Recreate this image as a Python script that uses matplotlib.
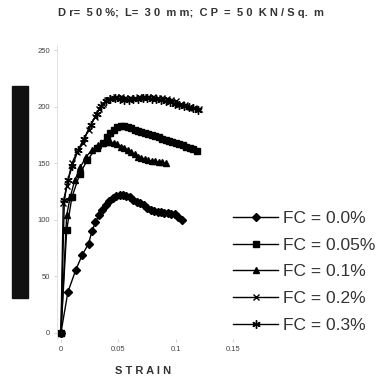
import matplotlib
matplotlib.use("Agg")
import matplotlib.pyplot as plt
from matplotlib.patches import Rectangle

# 資料：應變 (strain) 與應力，依 FC 分組
fc_labels = ["FC = 0.0%", "FC = 0.05%", "FC = 0.1%", "FC = 0.2%", "FC = 0.3%"]

x_fc00 = [0, 0.006, 0.013, 0.0185, 0.024, 0.027, 0.030, 0.033, 0.036, 0.039, 0.042, 0.045,
          0.048, 0.051, 0.054, 0.057, 0.060, 0.063, 0.066, 0.069, 0.072, 0.075, 0.078, 0.081,
          0.084, 0.087, 0.090, 0.093, 0.096, 0.099, 0.102, 0.105]
y_fc00 = [0, 36, 56, 69, 79, 90, 98, 104, 109, 113, 117, 119, 121, 122, 122, 121, 120, 118,
          116, 115, 113, 111, 109, 108, 107, 107, 106, 106, 105, 105, 103, 100]

x_fc005 = [0, 0.005, 0.0095, 0.0165, 0.023, 0.031, 0.0365, 0.040, 0.043, 0.046, 0.049, 0.052,
           0.055, 0.058, 0.061, 0.064, 0.067, 0.070, 0.073, 0.076, 0.079, 0.082, 0.085, 0.088,
           0.091, 0.094, 0.097, 0.100, 0.103, 0.106, 0.109, 0.112, 0.115, 0.118]
y_fc005 = [0, 91, 120, 141, 153, 164, 168, 173, 177, 180, 182, 183, 183, 182, 181, 180, 179,
           178, 177, 176, 175, 174, 173, 172, 171, 170, 169, 168, 167, 166, 165, 164, 163, 161]

x_fc01 = [0, 0.005, 0.008, 0.012, 0.017, 0.022, 0.027, 0.032, 0.036, 0.040, 0.043, 0.046,
          0.049, 0.052, 0.055, 0.058, 0.061, 0.064, 0.067, 0.070, 0.073, 0.076, 0.079, 0.082,
          0.085, 0.088, 0.091]
y_fc01 = [0, 104, 120, 135, 147, 156, 162, 166, 168, 169, 169, 168, 167, 165, 164, 162, 160,
          158, 156, 155, 154, 153, 152, 152, 151, 151, 150]

x_fc02 = [0, 0.002, 0.005, 0.0095, 0.014, 0.019, 0.024, 0.0296, 0.033, 0.0365, 0.040, 0.044,
          0.048, 0.052, 0.056, 0.060, 0.064, 0.068, 0.072, 0.076, 0.080, 0.084, 0.088, 0.092,
          0.096, 0.100, 0.104, 0.108, 0.112, 0.116, 0.120]
y_fc02 = [0, 115, 130, 150, 160, 168, 180, 191, 198, 203, 206, 208, 209, 209, 208, 208, 208,
          209, 209, 209, 209, 208, 208, 207, 206, 205, 203, 202, 200, 199, 198]

x_fc03 = [0, 0.003, 0.006, 0.010, 0.015, 0.020, 0.026, 0.031, 0.035, 0.039, 0.043, 0.047,
          0.051, 0.055, 0.059, 0.063, 0.067, 0.071, 0.075, 0.079, 0.083, 0.087, 0.091, 0.095,
          0.099, 0.103, 0.107, 0.111, 0.115, 0.119]
y_fc03 = [0, 118, 135, 148, 162, 172, 184, 194, 201, 205, 207, 208, 207, 206, 206, 207, 207,
          208, 208, 207, 207, 206, 205, 204, 203, 202, 201, 200, 199, 197]

x_ticks = [0, 0.05, 0.1, 0.15]
x_ticklabels = ["0", "0.05", "0.1", "0.15"]
y_ticks = [0, 50, 100, 150, 200, 250]

plt.rcParams['font.family'] = ['Liberation Sans', 'DejaVu Sans']

fig = plt.figure(figsize=(3.84, 3.80), dpi=100)
ax = fig.add_axes([0.1497, 0.109, 0.518, 0.773])

series = [(x_fc00, y_fc00, "D", 4.5),
          (x_fc005, y_fc005, "s", 5),
          (x_fc01, y_fc01, "^", 5),
          (x_fc02, y_fc02, "x", 5),
          (x_fc03, y_fc03, (6, 2, 0), 6)]
for (xs, ys, mk, ms), lab in zip(series, fc_labels):
    ax.plot(xs, ys, color="black", lw=1.0, marker=mk, ms=ms, mew=1.0,
            label=lab, clip_on=False)

ax.set_xlim(-0.003, 0.17)
ax.set_ylim(-5, 255)
ax.set_xticks(x_ticks)
ax.set_xticklabels(x_ticklabels)
ax.set_yticks(y_ticks)
ax.tick_params(labelsize=5.5, labelcolor="#444444", colors="#cccccc", length=2, width=0.6)
for side in ["top", "right", "bottom"]:
    ax.spines[side].set_visible(False)
ax.spines["left"].set_color("#dddddd")
ax.spines["left"].set_linewidth(0.6)

ax.set_xlabel("S T R A I N", fontsize=8, fontweight="bold", color="#333333")
ax.xaxis.set_label_coords(0.43, -0.095)

fig.text(0.497, 0.966, "D r=  5 0 %;  L=  3 0  m m;  C P  =  5 0  K N / S q.  m",
         ha="center", va="center", fontsize=8, fontweight="bold", color="#333333")

# 左側黑色長條 (原圖中被塗黑的 y 軸標籤)
fig.patches.append(Rectangle((12 / 384, (380 - 298) / 380), 16 / 384, 212 / 380,
                             transform=fig.transFigure, color="#111111"))

fig.legend(loc="upper left", bbox_to_anchor=(233 / 384, 1 - 211 / 380), frameon=False,
           fontsize=12.5, handlelength=2.6, handletextpad=0.3, labelspacing=0.66,
           labelcolor="#333333", borderaxespad=0, borderpad=0)

fig.savefig("out.png", dpi=100)
